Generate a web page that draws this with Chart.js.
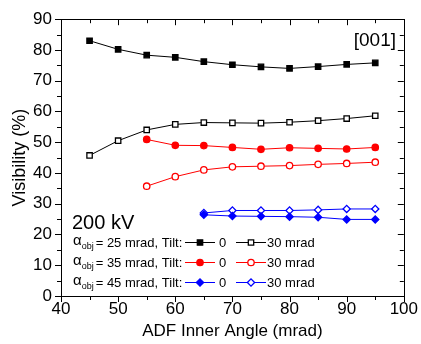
<!DOCTYPE html>
<html>
<head>
<meta charset="utf-8">
<script src="https://cdn.jsdelivr.net/npm/chart.js@4.4.1/dist/chart.umd.min.js"></script>
<style>
  body { margin: 0; background: #fff; }
  canvas { display: block; }
</style>
</head>
<body>
<canvas id="chart" width="421" height="344"></canvas>
<script>
const FONT = "'Liberation Sans', Arial, sans-serif";

// ADF inner angle (mrad)
const angles = [45, 50, 55, 60, 65, 70, 75, 80, 85, 90, 95];

// Visibility (%) per objective aperture and tilt
const obj25Tilt0 = [83.0, 80.2, 78.3, 77.6, 76.2, 75.2, 74.5, 74.0, 74.6, 75.3, 75.8];
const obj25Tilt30 = [45.7, 50.5, 54.0, 55.8, 56.4, 56.3, 56.2, 56.5, 57.0, 57.7, 58.6];
const obj35Tilt0 = [null, null, 50.9, 49.0, 48.9, 48.3, 47.7, 48.2, 48.0, 47.8, 48.3];
const obj35Tilt30 = [null, null, 35.7, 38.8, 41.0, 42.0, 42.2, 42.4, 42.8, 43.1, 43.5];
const obj45Tilt0 = [null, null, null, null, 26.4, 26.0, 25.9, 25.8, 25.6, 24.9, 24.9];
const obj45Tilt30 = [null, null, null, null, 27.0, 27.8, 27.8, 27.8, 28.0, 28.3, 28.3];

const xTicks = [40, 50, 60, 70, 80, 90, 100];
const yTicks = [0, 10, 20, 30, 40, 50, 60, 70, 80, 90];

const legendRows = [
    { label: "25", filled: 0, open: 1 },
    { label: "35", filled: 2, open: 3 },
    { label: "45", filled: 4, open: 5 }
];

function series(data, color, style, filled, radius) {
    return {
        data: data.map((v, j) => ({ x: angles[j], y: v })),
        borderColor: color,
        backgroundColor: filled ? color : "#fff",
        borderWidth: 1,
        pointStyle: style,
        pointRadius: radius,
        pointBorderWidth: 1.3,
        pointBorderColor: color,
        pointBackgroundColor: filled ? color : "#fff",
        tension: 0,
        spanGaps: false
    };
}

// Draws outward ticks on bottom/left, inward mirrored ticks on top/right
const axisTicks = {
    id: "axisTicks",
    afterDraw(chart) {
        const ctx = chart.ctx;
        const a = chart.chartArea;
        const xs = chart.scales.x, ys = chart.scales.y;
        ctx.save();
        ctx.strokeStyle = "#000";
        ctx.lineWidth = 1;
        ctx.strokeRect(Math.round(a.left) + 0.5, Math.round(a.top) + 0.5,
            Math.round(a.right - a.left), Math.round(a.bottom - a.top));
        ctx.beginPath();
        for (let v = 40; v <= 100; v += 5) {
            const x = Math.round(xs.getPixelForValue(v)) + 0.5;
            const len = v % 10 === 0 ? 6 : 4;
            ctx.moveTo(x, a.bottom); ctx.lineTo(x, a.bottom + len);
            ctx.moveTo(x, a.top); ctx.lineTo(x, a.top + len);
        }
        for (let v = 0; v <= 90; v += 5) {
            const y = Math.round(ys.getPixelForValue(v)) + 0.5;
            const len = v % 10 === 0 ? 6 : 4;
            ctx.moveTo(a.left, y); ctx.lineTo(a.left - len, y);
            ctx.moveTo(a.right, y); ctx.lineTo(a.right - len, y);
        }
        ctx.stroke();
        ctx.restore();
    }
};

// Text annotations and the three-row legend
const legendText = {
    id: "legendText",
    afterDraw(chart) {
        const ctx = chart.ctx;
        ctx.save();
        ctx.fillStyle = "#000";
        ctx.textBaseline = "alphabetic";

        ctx.font = "19px " + FONT;
        ctx.textAlign = "right";
        ctx.fillText("[001]", 396, 46);
        ctx.textAlign = "left";
        ctx.font = "20px " + FONT;
        ctx.fillText("200 kV", 72, 229);

        const rowY = [242, 262, 282];
        legendRows.forEach((row, i) => {
            const y = rowY[i];
            ctx.fillStyle = "#000";
            ctx.font = "15px " + FONT;
            ctx.fillText("\u03b1", 73, y + 3);
            let x = 73 + ctx.measureText("\u03b1").width;
            ctx.font = "9px " + FONT;
            ctx.fillText("obj", x, y + 7);
            x += ctx.measureText("obj").width + 2;
            ctx.font = "13px " + FONT;
            ctx.fillText("= " + row.label + " mrad, Tilt:", x, y + 4.5);

            const samples = [
                { ds: row.filled, x0: 185, tx: 219, text: "0" },
                { ds: row.open, x0: 236, tx: 267, text: "30 mrad" }
            ];
            samples.forEach(s => {
                const ds = chart.data.datasets[s.ds];
                ctx.strokeStyle = ds.borderColor;
                ctx.lineWidth = 1;
                ctx.beginPath();
                ctx.moveTo(s.x0, y + 0.5);
                ctx.lineTo(s.x0 + 30, y + 0.5);
                ctx.stroke();
                ctx.fillStyle = ds.pointBackgroundColor;
                ctx.strokeStyle = ds.pointBorderColor;
                ctx.lineWidth = ds.pointBorderWidth;
                Chart.helpers.drawPoint(ctx, {
                    pointStyle: ds.pointStyle,
                    radius: ds.pointRadius,
                    rotation: 0,
                    borderWidth: ds.pointBorderWidth
                }, s.x0 + 15, y + 0.5);
                ctx.fillStyle = "#000";
                ctx.font = "13px " + FONT;
                ctx.fillText(s.text, s.tx, y + 4.5);
            });
        });
        ctx.restore();
    }
};

new Chart(document.getElementById("chart"), {
    type: "line",
    data: {
        datasets: [
            series(obj25Tilt0, "#000000", "rect", true, 3.8),
            series(obj25Tilt30, "#000000", "rect", false, 3.8),
            series(obj35Tilt0, "#ff0000", "circle", true, 3.2),
            series(obj35Tilt30, "#ff0000", "circle", false, 3.2),
            series(obj45Tilt0, "#0000ff", "rectRot", true, 3.6),
            series(obj45Tilt30, "#0000ff", "rectRot", false, 3.6)
        ]
    },
    options: {
        responsive: false,
        animation: false,
        layout: { padding: { top: 19, right: 16, left: 0, bottom: 0 } },
        plugins: { legend: { display: false }, tooltip: { enabled: false } },
        scales: {
            x: {
                type: "linear",
                min: 40,
                max: 100,
                grid: { display: false, drawTicks: false },
                border: { display: false },
                afterBuildTicks: s => { s.ticks = xTicks.map(v => ({ value: v })); },
                afterFit: s => { s.height = 48; },
                ticks: {
                    color: "#000",
                    font: { family: FONT, size: 17 },
                    padding: 3,
                    maxRotation: 0
                },
                title: {
                    display: true,
                    text: "ADF Inner Angle (mrad)",
                    color: "#000",
                    font: { family: FONT, size: 17 },
                    padding: { top: 0, bottom: 2 }
                }
            },
            y: {
                min: 0,
                max: 90,
                grid: { display: false, drawTicks: false },
                border: { display: false },
                afterBuildTicks: s => { s.ticks = yTicks.map(v => ({ value: v })); },
                afterFit: s => { s.width = 61; },
                ticks: {
                    color: "#000",
                    font: { family: FONT, size: 17 },
                    padding: 9
                },
                title: {
                    display: true,
                    text: "Visibility (%)",
                    color: "#000",
                    font: { family: FONT, size: 18 },
                    padding: { top: 9, bottom: 0 }
                }
            }
        }
    },
    plugins: [axisTicks, legendText]
});
</script>
</body>
</html>
